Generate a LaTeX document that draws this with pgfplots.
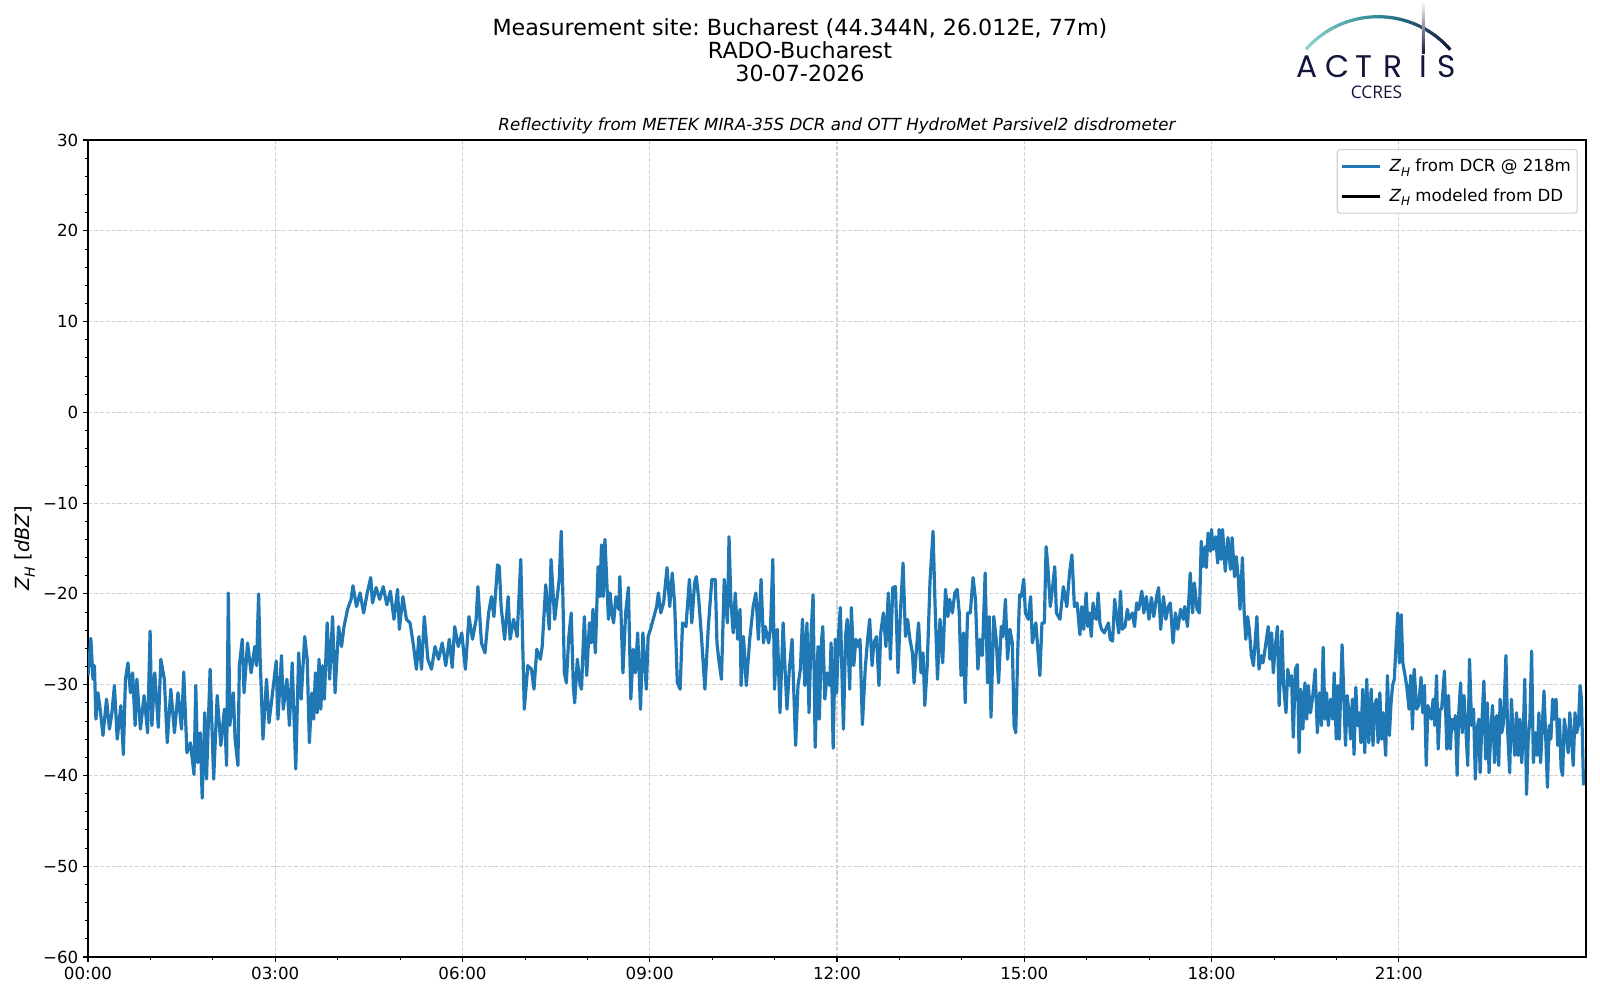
\documentclass[border=0pt]{standalone}
\usepackage{fontspec}
\setmainfont{DejaVu Sans}
\newfontfamily\logofont{Poppins}
\newfontfamily\ccresfont{Open Sans}
\usepackage{graphicx}
\usepackage{pgfplots}
\usepackage{pgfplotstable}
\pgfplotsset{compat=1.18}
\frenchspacing
\definecolor{mplblue}{HTML}{1F77B4}
\definecolor{gridgray}{HTML}{D3D3D3}
\definecolor{legedge}{HTML}{D0D0D0}
\definecolor{arcA}{HTML}{8FD4CC}
\definecolor{arcB}{HTML}{2C8696}
\definecolor{navy}{HTML}{13153B}
\newcommand\ZH{{\itshape Z}\raisebox{-0.25em}{\scalebox{0.72}{\itshape H}}}

% time [min after 00:00 UTC], Z_H [dBZ]
\pgfplotstableread{
t z
0 -29.0
2.7 -24.9
4.8 -29.4
6.2 -27.9
7.6 -33.8
9.6 -30.9
11.7 -32.7
14.4 -35.6
17.8 -31.6
20.6 -34.9
23.0 -33.1
25.4 -30.1
28.1 -36.0
31.6 -32.3
34.0 -37.7
36.0 -29.4
38.4 -27.6
40.8 -30.9
42.9 -28.7
45.3 -34.5
47.0 -29.4
50.4 -34.9
53.9 -31.2
57.3 -35.3
59.7 -24.1
61.4 -34.5
64.2 -28.7
67.6 -34.7
70.0 -27.2
73.4 -29.4
76.2 -36.4
79.6 -30.5
83.1 -35.3
86.5 -30.9
89.9 -34.9
92.0 -28.6
95.1 -37.5
98.5 -36.4
101.9 -39.9
103.6 -30.1
105.4 -38.6
107.8 -35.3
109.8 -42.5
112.2 -33.1
113.9 -40.4
117.4 -28.3
120.8 -40.4
124.2 -31.2
127.7 -36.7
131.1 -32.7
133.2 -38.9
134.9 -19.9
136.3 -34.5
139.7 -30.9
141.4 -36.0
144.1 -38.9
145.5 -27.9
148.3 -25.0
150.0 -30.9
153.4 -25.4
156.8 -28.7
160.3 -25.8
162.0 -27.9
164.0 -20.0
165.4 -26.8
168.2 -36.0
171.6 -29.4
174.0 -34.2
177.4 -30.9
180.9 -27.4
182.6 -33.8
186.0 -26.8
187.7 -32.7
191.2 -29.4
193.6 -34.5
196.3 -27.6
199.7 -39.3
202.5 -26.5
204.9 -31.6
208.3 -24.7
210.7 -27.2
212.8 -36.4
215.2 -30.9
216.9 -33.8
218.6 -28.7
220.3 -33.1
222.1 -27.2
223.8 -32.7
225.5 -27.9
227.2 -31.6
229.9 -23.2
232.3 -29.4
235.1 -22.5
237.5 -30.9
240.9 -23.6
243.7 -25.8
246.1 -23.6
249.5 -21.7
252.9 -20.6
254.7 -19.1
258.1 -21.4
261.5 -19.9
265.0 -22.1
268.4 -19.9
271.8 -18.2
273.5 -21.0
277.0 -19.3
280.4 -20.6
283.8 -19.2
287.3 -21.2
290.7 -19.7
294.1 -22.8
297.6 -19.5
299.3 -23.9
302.7 -20.3
306.1 -22.8
309.6 -23.2
313.0 -25.8
315.7 -28.3
318.1 -24.7
320.6 -28.3
323.3 -22.5
326.7 -27.2
330.2 -28.3
333.6 -25.8
337.0 -27.2
340.5 -25.4
343.9 -27.9
347.3 -25.0
350.1 -28.1
352.5 -23.6
355.9 -25.8
359.3 -24.3
362.8 -28.3
366.2 -22.5
369.6 -25.0
373.1 -22.8
374.8 -19.2
378.2 -25.4
381.6 -26.5
385.1 -22.1
387.8 -20.3
390.2 -22.5
393.7 -16.8
395.4 -17.0
397.1 -21.4
400.5 -25.0
403.9 -20.3
405.7 -25.0
409.1 -22.8
412.5 -24.7
416.0 -16.2
417.7 -24.7
419.4 -32.7
422.8 -27.9
426.3 -28.3
428.7 -30.5
431.4 -26.1
434.8 -27.2
436.6 -25.8
440.0 -19.0
443.4 -23.9
445.1 -16.2
448.6 -22.8
453.0 -18.4
454.9 -13.1
456.5 -20.3
457.9 -28.7
459.8 -29.8
462.2 -24.7
464.5 -22.1
466.5 -30.1
467.8 -32.0
470.4 -27.2
473.1 -30.1
474.4 -30.5
477.1 -22.5
479.4 -29.0
482.0 -23.2
483.7 -25.4
485.4 -21.7
487.7 -26.5
490.3 -17.0
492.0 -20.3
493.6 -14.6
495.3 -20.3
496.9 -14.0
498.6 -18.4
500.3 -22.8
501.9 -19.9
503.6 -22.1
505.2 -23.2
507.5 -20.3
510.2 -21.7
511.2 -18.1
514.2 -28.7
516.8 -22.1
519.5 -19.3
520.8 -26.5
521.8 -31.6
524.1 -26.1
526.1 -28.7
528.4 -24.3
531.1 -32.7
533.4 -24.3
536.7 -30.5
538.4 -24.7
540.7 -23.9
543.3 -22.8
546.6 -21.4
548.3 -19.9
550.6 -22.1
553.3 -21.0
556.6 -17.1
559.2 -21.4
561.6 -17.7
563.9 -21.0
566.5 -29.8
569.2 -30.5
571.5 -23.2
574.8 -23.6
578.1 -18.4
580.4 -23.2
583.1 -18.8
584.7 -18.1
587.1 -20.6
589.7 -24.7
593.0 -30.5
596.3 -23.6
599.7 -18.4
603.0 -18.4
604.6 -25.4
606.3 -27.2
608.9 -29.4
611.6 -18.4
614.6 -23.2
616.2 -13.7
617.9 -20.6
620.2 -24.3
622.2 -19.9
624.5 -25.0
626.8 -21.7
627.8 -30.1
630.1 -24.7
632.8 -30.1
636.1 -25.0
639.4 -21.4
642.0 -19.9
644.4 -25.0
647.0 -18.4
649.3 -25.4
651.0 -23.6
654.3 -25.4
656.0 -23.9
658.3 -16.2
659.9 -30.5
662.6 -23.9
665.2 -33.1
668.2 -23.2
669.9 -27.9
671.9 -32.7
674.2 -28.3
676.8 -25.0
680.2 -36.7
682.5 -30.1
684.8 -28.3
686.8 -22.8
689.1 -30.1
691.1 -23.2
693.1 -33.1
695.1 -24.3
697.0 -20.1
699.0 -36.9
701.7 -25.8
703.0 -33.8
705.0 -25.4
706.3 -23.6
708.3 -31.6
710.6 -28.7
713.0 -30.1
714.3 -25.4
716.3 -37.0
718.3 -25.0
719.6 -30.9
721.6 -24.3
723.2 -21.5
724.9 -29.4
726.2 -34.9
728.2 -24.7
729.8 -22.8
732.2 -30.5
733.8 -21.5
736.1 -27.9
738.1 -25.0
740.4 -25.8
742.1 -25.0
744.4 -34.4
747.1 -28.3
749.4 -25.0
751.4 -22.8
753.7 -27.9
755.4 -25.4
758.0 -24.7
760.3 -30.1
762.0 -24.3
764.6 -22.1
767.0 -25.8
769.3 -19.9
771.3 -27.2
773.6 -19.3
776.2 -19.2
778.6 -28.7
780.9 -22.1
783.5 -16.6
785.8 -24.7
787.8 -22.8
790.1 -25.0
792.5 -26.5
794.1 -29.8
796.1 -26.5
798.4 -23.2
800.7 -28.7
802.7 -26.5
804.4 -32.3
806.7 -27.9
809.4 -18.6
812.3 -13.1
814.3 -21.4
816.6 -29.4
819.0 -22.8
821.6 -27.6
824.3 -19.5
826.6 -22.5
828.2 -20.6
830.9 -22.1
833.2 -19.9
835.5 -19.5
837.5 -22.1
839.2 -29.0
841.5 -24.3
843.2 -32.0
845.5 -22.1
848.1 -22.1
850.8 -18.2
853.1 -20.6
855.4 -28.3
857.4 -25.0
859.7 -26.8
862.4 -17.7
864.7 -29.8
866.3 -22.5
868.0 -33.6
870.7 -22.5
873.0 -25.0
875.3 -29.8
877.9 -23.6
879.6 -24.7
881.9 -20.6
883.9 -27.2
886.2 -23.9
888.5 -25.4
890.2 -34.5
891.8 -35.3
893.8 -26.1
895.5 -20.1
897.2 -20.3
899.5 -18.4
901.1 -22.1
903.8 -22.8
906.1 -20.3
907.8 -25.4
911.1 -23.2
915.0 -29.0
917.0 -23.2
919.3 -23.2
921.0 -14.8
922.7 -17.0
925.0 -21.4
927.0 -19.5
929.3 -17.0
930.9 -22.1
934.3 -22.8
937.6 -19.2
940.9 -21.4
943.5 -17.7
945.8 -15.7
948.2 -21.4
950.8 -21.0
953.5 -24.5
955.2 -21.4
957.2 -23.9
959.5 -19.9
961.1 -23.6
962.8 -22.1
964.4 -24.7
966.1 -21.0
967.7 -22.5
969.4 -22.8
971.0 -19.9
972.7 -23.2
974.3 -23.9
977.0 -24.3
979.3 -23.6
980.9 -23.2
982.6 -25.0
984.9 -25.2
986.9 -20.6
989.2 -22.8
990.8 -24.3
992.5 -19.7
994.1 -23.9
996.8 -23.6
999.1 -21.7
1000.7 -22.8
1004.0 -22.1
1006.0 -23.6
1008.0 -21.0
1010.0 -21.7
1013.0 -19.7
1014.9 -22.1
1017.3 -20.3
1019.9 -22.8
1022.2 -20.4
1024.5 -22.5
1027.2 -20.3
1029.1 -19.3
1031.1 -23.9
1033.8 -20.3
1036.1 -22.8
1038.4 -21.4
1040.4 -21.0
1043.0 -25.4
1045.3 -22.1
1047.6 -23.9
1050.3 -21.7
1052.9 -22.8
1054.2 -21.4
1056.9 -23.6
1059.5 -17.7
1061.8 -22.1
1063.5 -18.8
1066.1 -21.7
1068.4 -22.1
1070.1 -14.2
1071.7 -17.0
1074.0 -14.8
1075.0 -17.1
1076.7 -13.3
1079.0 -15.3
1080.0 -12.9
1081.6 -15.1
1084.0 -13.7
1085.9 -16.6
1087.3 -12.9
1089.2 -16.2
1090.6 -12.9
1093.2 -17.5
1095.8 -13.8
1098.2 -17.3
1099.8 -13.8
1102.1 -18.1
1103.8 -15.9
1105.8 -18.4
1107.4 -21.7
1109.7 -16.0
1111.4 -22.1
1113.0 -25.0
1114.7 -22.5
1116.3 -23.9
1118.3 -26.8
1120.3 -27.9
1122.3 -24.7
1123.6 -22.5
1125.6 -28.3
1127.9 -26.8
1129.5 -27.6
1131.8 -25.8
1134.5 -23.6
1136.1 -27.2
1137.8 -24.3
1139.4 -28.7
1141.1 -26.1
1143.4 -23.6
1145.0 -32.3
1147.7 -24.1
1149.3 -30.1
1151.6 -33.1
1153.3 -28.3
1155.3 -30.1
1156.9 -29.0
1158.6 -35.8
1160.6 -28.3
1162.5 -27.8
1164.2 -37.5
1165.8 -30.5
1167.8 -34.9
1169.8 -29.8
1171.5 -33.8
1173.1 -30.1
1175.1 -33.1
1177.4 -31.2
1179.7 -28.3
1181.7 -35.3
1184.0 -30.9
1185.7 -34.5
1187.3 -25.9
1189.0 -33.8
1190.6 -30.9
1192.3 -34.5
1194.6 -31.6
1196.6 -33.8
1197.9 -28.7
1199.9 -36.0
1201.5 -30.1
1202.8 -36.0
1205.5 -25.6
1207.1 -30.9
1208.8 -36.7
1210.4 -31.2
1212.1 -33.1
1213.7 -36.0
1215.4 -31.6
1217.0 -37.7
1218.7 -30.3
1220.3 -34.5
1222.0 -33.1
1223.6 -36.4
1225.3 -30.5
1227.3 -37.5
1229.2 -29.4
1231.2 -36.4
1233.5 -30.5
1235.2 -36.7
1236.9 -32.3
1238.5 -31.6
1240.1 -36.4
1241.8 -30.9
1243.4 -36.0
1245.1 -33.1
1247.4 -37.8
1249.1 -29.0
1251.0 -35.6
1252.4 -32.3
1254.0 -30.1
1255.7 -29.4
1257.3 -25.8
1259.0 -22.1
1260.6 -27.6
1262.3 -22.3
1263.9 -27.6
1265.6 -28.7
1267.6 -30.1
1269.9 -32.7
1271.5 -29.0
1273.2 -34.9
1274.8 -28.3
1277.1 -32.7
1279.1 -32.3
1281.4 -29.2
1283.1 -33.1
1284.7 -30.1
1286.4 -38.9
1288.0 -32.3
1289.7 -33.1
1291.3 -33.8
1293.0 -31.6
1294.6 -34.5
1296.3 -29.0
1297.9 -37.1
1299.6 -32.7
1301.2 -32.7
1303.9 -28.5
1306.2 -37.1
1307.8 -31.2
1309.5 -37.1
1311.1 -33.8
1312.8 -34.9
1314.4 -33.4
1316.1 -40.0
1317.7 -33.1
1319.4 -29.8
1321.0 -35.3
1322.7 -31.2
1324.3 -34.5
1326.3 -38.9
1328.0 -27.2
1330.0 -34.5
1331.9 -32.7
1333.6 -40.4
1335.3 -34.9
1336.9 -33.8
1338.2 -39.7
1339.9 -34.2
1341.8 -29.6
1343.5 -38.2
1345.1 -32.0
1346.8 -39.7
1348.4 -35.3
1350.1 -32.3
1352.1 -38.6
1354.1 -33.4
1356.1 -38.9
1357.4 -31.6
1359.0 -35.3
1360.7 -34.2
1363.0 -26.8
1364.6 -34.9
1366.6 -39.7
1368.3 -31.6
1369.9 -35.3
1371.6 -37.8
1373.2 -33.1
1374.9 -37.8
1376.5 -33.8
1378.2 -38.6
1379.8 -34.9
1381.1 -29.4
1382.8 -42.1
1384.4 -36.0
1386.1 -33.8
1387.7 -26.3
1389.4 -38.6
1391.4 -35.3
1393.0 -37.8
1394.7 -33.1
1396.3 -38.6
1398.0 -34.5
1399.6 -30.7
1401.3 -36.0
1402.9 -41.3
1404.6 -34.5
1406.2 -36.0
1407.9 -31.6
1409.5 -33.8
1411.2 -31.6
1412.8 -36.7
1414.5 -33.8
1416.1 -39.3
1417.5 -40.0
1419.1 -33.8
1420.8 -35.3
1422.8 -37.5
1424.4 -33.1
1426.1 -36.0
1427.7 -38.9
1429.4 -33.1
1431.0 -35.3
1432.7 -34.5
1434.3 -30.1
1435.6 -31.6
1437.6 -41.1
}\dcrdata

\begin{document}
\begin{tikzpicture}
\useasboundingbox (0,0) rectangle (1152bp,720bp);
\begin{axis}[
  at={(63.36bp,30.96bp)}, anchor=south west,
  scale only axis, width=1078.56bp, height=588.24bp,
  xmin=0, xmax=1440, ymin=-60, ymax=30,
  xtick={0,180,360,540,720,900,1080,1260},
  xticklabels={00:00,03:00,06:00,09:00,12:00,15:00,18:00,21:00},
  minor x tick num=2,
  ytick={-60,-50,-40,-30,-20,-10,0,10,20,30},
  yticklabels={−60,−50,−40,−30,−20,−10,0,10,20,30},
  minor y tick num=4,
  tick align=outside, tick pos=left,
  major tick length=3.5bp, minor tick length=2bp,
  every tick/.style={black},
  every major tick/.append style={line width=0.8bp},
  every minor tick/.append style={line width=0.6bp},
  axis line style={line width=0.8bp},
  tick label style={font=\fontsize{12bp}{14bp}\selectfont},
  grid=major,
  major grid style={color=gridgray, line width=0.8bp, dash pattern=on 2.96bp off 1.28bp},
  legend style={at={(1,1)}, anchor=north east, xshift=-6bp, yshift=-6.5bp,
    draw=legedge, line width=0.8bp, rounded corners=2bp, fill=white,
    font=\fontsize{12bp}{14bp}\selectfont,
    inner xsep=2.5bp, inner ysep=5bp, row sep=6.6bp},
  legend cell align=left,
  legend image code/.code={\draw[#1] (0bp,0bp) -- (27.5bp,0bp); \path (31bp,0bp);},
]
\addplot[color=mplblue, line width=2.3bp, line join=round] table[x=t, y=z] {\dcrdata};
\addlegendentry{\ZH\ from DCR @ 218m}
\addlegendimage{black, line width=2bp}
\addlegendentry{\ZH\ modeled from DD}
\end{axis}

\begin{scope}[shift={(0bp,720bp)}, x=0.72bp, y=-0.72bp]
  % titles
  \node[anchor=base, font=\fontsize{16bp}{18bp}\selectfont, inner sep=0pt] at (800,36) {Measurement site: Bucharest (44.344N, 26.012E, 77m)};
  \node[anchor=base, font=\fontsize{16bp}{18bp}\selectfont, inner sep=0pt] at (800,59) {RADO-Bucharest};
  \node[anchor=base, font=\fontsize{16bp}{18bp}\selectfont, inner sep=0pt] at (800,82) {30-07-2026};
  \node[anchor=base, font=\fontsize{12bp}{14bp}\selectfont\itshape, inner sep=0pt] at (837,131) {Reflectivity from METEK MIRA-35S DCR and OTT HydroMet Parsivel2 disdrometer};
  % y label
  \node[rotate=90, anchor=center, font=\fontsize{14bp}{16bp}\selectfont, inner sep=0pt] at (25,548.5) {\ZH\ [{\itshape dBZ}]};
  % logo arc
  \foreach \i in {0,...,39}{
    \pgfmathsetmacro\aa{-138.7+\i*97.4/40}
    \pgfmathsetmacro\ab{-138.7+(\i+1.15)*97.4/40}
    \pgfmathtruncatemacro\pa{100-\i*5}
    \pgfmathtruncatemacro\pb{100-(\i-20)*5}
    \ifnum\i<20
      \colorlet{segc}{arcA!\pa!arcB}
    \else
      \colorlet{segc}{arcB!\pb!navy}
    \fi
    \draw[line width=2.3bp, segc] ([shift={(\aa:95.8)}]1378,112.5) arc[start angle=\aa, end angle=\ab, radius=95.8];
  }
  \shade[top color=white, bottom color=navy] (1421.8,1) rectangle (1424.8,54);
  % ACTRIS letters
  \foreach \L/\X in {A/1307,C/1337.5,T/1364,R/1393,I/1423.3,S/1446.5}{
    \node[anchor=base, inner sep=0pt, text=navy, font=\logofont\fontsize{22.5bp}{23bp}\selectfont] at (\X,77.3) {\L};
  }
  \node[anchor=base, inner sep=0pt, text=navy, font=\ccresfont\fontsize{12.5bp}{14bp}\selectfont] at (1376.5,98.7) {CCRES};
\end{scope}
\end{tikzpicture}
\end{document}
